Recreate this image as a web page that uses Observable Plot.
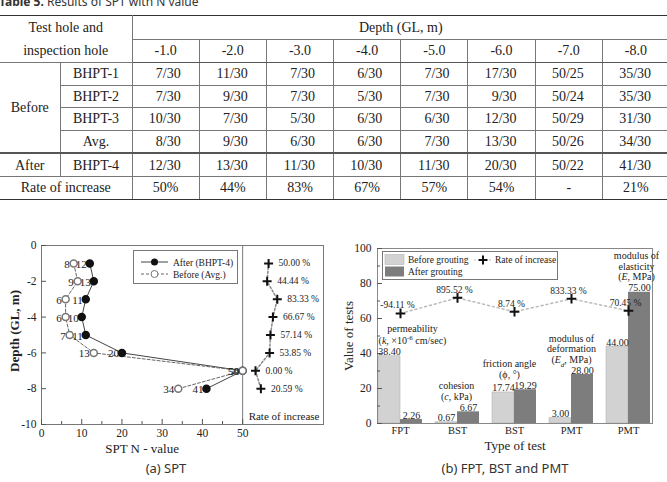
<!DOCTYPE html>
<html><head><meta charset="utf-8">
<script src="https://cdn.jsdelivr.net/npm/d3@7"></script>
<script src="https://cdn.jsdelivr.net/npm/@observablehq/plot@0.6"></script>
<style>
body{margin:0;background:#fff;width:667px;height:482px;overflow:hidden;position:relative;font-family:"Liberation Serif",serif;color:#222}
#title{position:absolute;left:-1px;top:-4px;font:12px/12px "Noto Sans",sans-serif;color:#333;white-space:nowrap}
#tbl{position:absolute;left:0;top:15px;width:667px;overflow:hidden}
table{border-collapse:collapse;table-layout:fixed;width:669.6px;font-size:14px;font-family:"Liberation Serif",serif;color:#222}
td{height:21.6px;padding:0;text-align:center;vertical-align:middle;border:1px solid #777;white-space:nowrap;line-height:15px}
td.num{text-align:right;padding-right:18px}
tr.top td{border-top:1.5px solid #333}
tr.hdr2 td{border-bottom:1.5px solid #555}
tr.after td{border-top:2px solid #555}
tr.last td{border-bottom:1.5px solid #333}
td.first{border-left:none}
.cap{position:absolute;font:13px "Noto Sans",sans-serif;color:#333;white-space:nowrap;transform:translateX(-50%)}
#chartA{position:absolute;left:0;top:240px}
#chartB{position:absolute;left:340px;top:240px}
.leg{position:absolute;background:#fff;border:1px solid #777}
.leg svg{position:absolute;left:0;top:0;overflow:visible}
.leg text{font-family:"Liberation Serif",serif;font-size:9.5px;fill:#222}
</style>
</head><body>
<div id="title"><b>Table 5.</b> Results of SPT with N value</div>
<div id="tbl"></div>
<div id="chartA"></div>
<div id="chartB"></div>
<div class="leg" style="left:133px;top:250px;width:103px;height:32px">
  <svg width="103" height="32">
    <line x1="7" x2="34" y1="11" y2="11" stroke="#444" stroke-width="1"/>
    <circle cx="20.5" cy="11" r="3.5" fill="#111"/>
    <text x="39" y="14.5">After (BHPT-4)</text>
    <line x1="7" x2="34" y1="23" y2="23" stroke="#666" stroke-width="1" stroke-dasharray="3,2"/>
    <circle cx="20.5" cy="23" r="3.5" fill="#fff" stroke="#777"/>
    <text x="39" y="26.5">Before (Avg.)</text>
  </svg>
</div>
<div class="leg" style="left:382px;top:251px;width:174px;height:27px">
  <svg width="174" height="27">
    <rect x="2" y="2.5" width="19" height="10" fill="#d2d2d2" stroke="#aaa" stroke-width="0.5"/>
    <text x="25" y="11">Before grouting</text>
    <rect x="2" y="14.5" width="19" height="10" fill="#7d7d7d"/>
    <text x="25" y="23">After grouting</text>
    <line x1="91" x2="109" y1="8" y2="8" stroke="#bbb" stroke-dasharray="2,3"/>
    <path d="M100,3.5V12.5M95.5,8H104.5" stroke="#111" stroke-width="2"/>
    <text x="112" y="11">Rate of increase</text>
  </svg>
</div>
<div class="cap" style="left:166px;top:459px">(a) SPT</div>
<div class="cap" style="left:505px;top:459px">(b) FPT, BST and PMT</div>
<script>
// ---------- Table data ----------
const depthLabels = ["-1.0","-2.0","-3.0","-4.0","-5.0","-6.0","-7.0","-8.0"];
const bhpt1 = ["7/30","11/30","7/30","6/30","7/30","17/30","50/25","35/30"];
const bhpt2 = ["7/30","9/30","7/30","5/30","7/30","9/30","50/24","35/30"];
const bhpt3 = ["10/30","7/30","5/30","6/30","6/30","12/30","50/29","31/30"];
const avgRow = ["8/30","9/30","6/30","6/30","7/30","13/30","50/26","34/30"];
const bhpt4 = ["12/30","13/30","11/30","10/30","11/30","20/30","50/22","41/30"];
const rateRow = ["50%","44%","83%","67%","57%","54%","-","21%"];

// ---------- Chart (a) data ----------
const depths = [-1,-2,-3,-4,-5,-6,-7,-8];
const afterN = [12,13,11,10,11,20,50,41];
const beforeN = [8,9,6,6,7,13,50,34];
const rateN = [50.00,44.44,83.33,66.67,57.14,53.85,0.00,20.59];
const xTicksA = [0,10,20,30,40,50];
const xMinorA = [5,15,25,35,45];
const yTicksA = [0,-2,-4,-6,-8,-10];

// ---------- Chart (b) data ----------
const testTypes = ["FPT","BST","BST","PMT","PMT"];
const properties = ["permeability\n(k, ×10-6 cm/sec)","cohesion\n(c, kPa)","friction angle\n(ϕ, °)","modulus of\ndeformation\n(Ed, MPa)","modulus of\nelasticity\n(E, MPa)"];
const beforeVals = [38.40,0.67,17.74,3.00,44.00];
const afterVals = [2.26,6.67,19.29,28.00,75.00];
const rateVals = [-94.11,895.52,8.74,833.33,70.45];
const yTicksB = [0,20,40,60,80,100];
const yMinorB = [10,30,50,70,90];

// ---------- Table ----------
function cells(arr, cls) { return arr.map(v => `<td class="${cls}">${v}</td>`).join(""); }
document.getElementById("tbl").innerHTML = `<table>
<colgroup><col style="width:60px"><col style="width:72px">${depthLabels.map(()=>'<col style="width:67.2px">').join("")}</colgroup>
<tr class="top"><td class="first" colspan="2" rowspan="2" style="line-height:23px">Test hole and<br>inspection hole</td><td colspan="8">Depth (GL, m)</td></tr>
<tr class="hdr2">${cells(depthLabels,"")}</tr>
<tr><td class="first" rowspan="4">Before</td><td>BHPT-1</td>${cells(bhpt1,"num")}</tr>
<tr><td>BHPT-2</td>${cells(bhpt2,"num")}</tr>
<tr><td>BHPT-3</td>${cells(bhpt3,"num")}</tr>
<tr><td>Avg.</td>${cells(avgRow,"num")}</tr>
<tr class="after"><td class="first">After</td><td>BHPT-4</td>${cells(bhpt4,"num")}</tr>
<tr class="last"><td class="first" colspan="2">Rate of increase</td>${cells(rateRow,"")}</tr>
</table>`;

// ---------- Chart (a) ----------
const spt = depths.map((d, i) => ({depth: d, after: afterN[i], before: beforeN[i], rate: rateN[i]}));
const rateToX = r => 53.2 + 0.065 * r; // rate-of-increase panel placement
const fwA = 282, fhA = 179;
const styleBase = {fontFamily: '"Liberation Serif", serif', fontSize: "13px", color: "#222", background: "transparent", overflow: "visible"};
const chartA = Plot.plot({
  width: 340, height: 215,
  marginLeft: 41, marginRight: 17, marginTop: 5, marginBottom: 31,
  x: {domain: [0, 70.1]},
  y: {domain: [-10, 0]},
  style: styleBase,
  marks: [
    Plot.frame({stroke: "#777"}),
    Plot.ruleX([50], {stroke: "#777"}),
    Plot.tickX(xTicksA, {x: d => d, insetTop: fhA - 5, stroke: "#555"}),
    Plot.tickX(xMinorA, {x: d => d, insetTop: fhA - 3, stroke: "#555"}),
    Plot.tickY(yTicksA, {y: d => d, insetRight: fwA - 5, stroke: "#555"}),
    Plot.axisX({ticks: xTicksA, tickSize: 0, tickPadding: 4, label: null, tickFormat: d => String(d), fontSize: 11.5}),
    Plot.axisY({ticks: yTicksA, tickSize: 0, tickPadding: 5, label: null, tickFormat: d => String(d), fontSize: 11.5}),
    Plot.line(spt, {x: "after", y: "depth", stroke: "#444", strokeWidth: 1}),
    Plot.line(spt, {x: "before", y: "depth", stroke: "#666", strokeWidth: 1, strokeDasharray: "3,2"}),
    Plot.dot(spt, {x: "after", y: "depth", r: 3.5, fill: "#111", stroke: "#111"}),
    Plot.dot(spt, {x: "before", y: "depth", r: 3.5, fill: "#fff", stroke: "#777"}),
    Plot.text(spt, {x: "before", y: "depth", text: d => String(d.before), textAnchor: "end", dx: -4, dy: 1, fontSize: 11}),
    Plot.text(spt, {x: "after", y: "depth", text: d => String(d.after), textAnchor: "end", dx: -3, dy: 1, fontSize: 11}),
    Plot.line(spt, {x: d => rateToX(d.rate), y: "depth", stroke: "#888", strokeDasharray: "2,2"}),
    Plot.dot(spt, {x: d => rateToX(d.rate), y: "depth", symbol: "plus", r: 3, stroke: "#111", strokeWidth: 2}),
    Plot.text(spt, {x: d => rateToX(d.rate), y: "depth", text: d => d.rate.toFixed(2) + " %", textAnchor: "start", dx: 10, fontSize: 9.5}),
    Plot.text(["Rate of increase"], {frameAnchor: "bottom-right", dx: -4, dy: -5, textAnchor: "end", lineAnchor: "bottom", fontSize: 11}),
    Plot.text(["SPT N - value"], {x: () => 25, frameAnchor: "bottom", dy: 24, lineAnchor: "middle", fontSize: 13}),
    Plot.text(["Depth (GL, m)"], {frameAnchor: "left", rotate: -90, dx: -27, dy: -4, textAnchor: "middle", lineAnchor: "middle", fontSize: 13, fontWeight: "bold"})
  ]
});
document.getElementById("chartA").append(chartA);

// ---------- Chart (b) ----------
const tests = testTypes.map((t, i) => ({i, type: t, prop: properties[i], before: beforeVals[i], after: afterVals[i], rate: rateVals[i]}));
const rateToY = r => 63.75 + 0.009 * r; // secondary rate placement
const fwB = 275;
const annotDx = [12, -1, -5, 0, 8];
const chartB = Plot.plot({
  width: 327, height: 215,
  marginLeft: 37, marginRight: 15, marginTop: 8, marginBottom: 32,
  x: {type: "band", domain: d3.range(testTypes.length), paddingInner: 0.228, paddingOuter: 0.026},
  y: {domain: [0, 100]},
  style: styleBase,
  marks: [
    Plot.barY(tests, {x: "i", y: "before", fill: "#d2d2d2", stroke: "#aaa", strokeWidth: 0.5, insetRight: 22}),
    Plot.barY(tests, {x: "i", y: "after", fill: "#7d7d7d", insetLeft: 22}),
    Plot.frame({stroke: "#888"}),
    Plot.tickY(yTicksB, {y: d => d, insetRight: fwB - 5, stroke: "#555"}),
    Plot.tickY(yMinorB, {y: d => d, insetRight: fwB - 3, stroke: "#555"}),
    Plot.axisY({ticks: yTicksB, tickSize: 0, tickPadding: 6, label: null, fontSize: 11.5}),
    Plot.axisX({tickSize: 0, tickPadding: 3, label: null, tickFormat: i => testTypes[i], fontSize: 10.5}),
    Plot.text(tests, {x: "i", y: "before", text: d => d.before.toFixed(2), dx: -11, dy: -1, lineAnchor: "bottom", fontSize: 10}),
    Plot.text(tests, {x: "i", y: "after", text: d => d.after.toFixed(2), dx: 11, dy: -1, lineAnchor: "bottom", fontSize: 10}),
    Plot.line(tests, {x: "i", y: d => rateToY(d.rate), stroke: "#bbb", strokeDasharray: "2,3"}),
    Plot.dot(tests, {x: "i", y: d => rateToY(d.rate), symbol: "plus", r: 3.2, stroke: "#111", strokeWidth: 2}),
    Plot.text(tests, {x: "i", y: d => rateToY(d.rate), text: d => d.rate.toFixed(2) + " %", dx: -3, dy: -5, lineAnchor: "bottom", fontSize: 9.5}),
    ...annotDx.map((dx, k) => Plot.text(tests.filter(d => d.i === k), {
      x: "i", y: d => Math.max(d.before, d.after), text: "prop", dx, dy: -12,
      lineAnchor: "bottom", fontSize: 10, lineHeight: k === 0 ? 1.25 : 1.05
    })),
    Plot.text(["Value of tests"], {frameAnchor: "left", rotate: -90, dx: -29, textAnchor: "middle", lineAnchor: "middle", fontSize: 13}),
    Plot.text(["Type of test"], {frameAnchor: "bottom", dy: 22, lineAnchor: "middle", fontSize: 13})
  ]
});
document.getElementById("chartB").append(chartB);

// rich text (italics, super/subscripts) for annotations
const rich = {
  "(k, ×10-6 cm/sec)": '(<tspan font-style="italic">k</tspan>, ×10<tspan baseline-shift="super" font-size="7">-6</tspan> cm/sec)',
  "(c, kPa)": '(<tspan font-style="italic">c</tspan>, kPa)',
  "(Ed, MPa)": '(<tspan font-style="italic">E</tspan><tspan baseline-shift="sub" font-size="7" font-style="italic">d</tspan>, MPa)',
  "(E, MPa)": '(<tspan font-style="italic">E</tspan>, MPa)'
};
chartB.querySelectorAll("text, tspan").forEach(el => {
  if (el.children.length === 0 && rich[el.textContent] !== undefined) el.innerHTML = rich[el.textContent];
});
</script>
</body></html>
